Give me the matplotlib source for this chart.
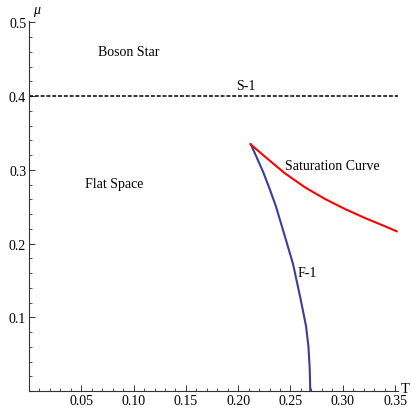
import matplotlib
matplotlib.use('Agg')
import matplotlib.pyplot as plt
from matplotlib.ticker import MultipleLocator, FixedLocator

plt.rcParams['font.family'] = ['Liberation Serif', 'DejaVu Serif']

# F-1 curve (blue)
f1_T = [0.2120, 0.2180, 0.2240, 0.2300, 0.2359, 0.2454, 0.2525, 0.2597, 0.2648, 0.2672, 0.2684, 0.2689]
f1_mu = [0.3350, 0.3160, 0.2967, 0.2745, 0.2514, 0.2062, 0.1720, 0.1245, 0.0886, 0.0600, 0.0300, 0.0]

# saturation curve (red)
sat_T = [0.2120, 0.2256, 0.2447, 0.2639, 0.2830, 0.3021, 0.3212, 0.3403, 0.3515]
sat_mu = [0.3345, 0.3179, 0.2953, 0.2763, 0.2605, 0.2469, 0.2347, 0.2235, 0.2167]

s1_mu = 0.4

xticks = [0.05, 0.10, 0.15, 0.20, 0.25, 0.30, 0.35]
xlabels = ['0.05', '0.10', '0.15', '0.20', '0.25', '0.30', '0.35']
yticks = [0.1, 0.2, 0.3, 0.4, 0.5]
ylabels = ['0.1', '0.2', '0.3', '0.4', '0.5']

fig = plt.figure(figsize=(4.12, 4.10), dpi=100)
ax = fig.add_axes([29/412, 18/410, 369/412, 370/410])

ax.axhline(s1_mu, color='black', lw=1.1, dashes=(2.6, 1.2))
ax.plot(f1_T, f1_mu, color='#3d3d99', lw=1.5)
ax.plot(sat_T, sat_mu, color='red', lw=1.5)

ax.set_xlim(0, 0.3528)
ax.set_ylim(0, 0.502)

for s in ['top', 'right']:
    ax.spines[s].set_visible(False)
for s in ['left', 'bottom']:
    ax.spines[s].set_linewidth(0.8)
    ax.spines[s].set_color('#333333')

ax.xaxis.set_major_locator(FixedLocator(xticks))
ax.set_xticklabels(xlabels)
ax.yaxis.set_major_locator(FixedLocator(yticks))
ax.set_yticklabels(ylabels)
ax.xaxis.set_minor_locator(MultipleLocator(0.01))
ax.yaxis.set_minor_locator(MultipleLocator(0.02))
ax.tick_params(which='major', direction='in', length=4, width=0.7, labelsize=10, pad=2, color='#333333')
ax.tick_params(which='minor', direction='in', length=2, width=0.6, color='#333333')

ax.text(0.0951, 0.46, 'Boson Star', fontsize=10, ha='center', va='center')
ax.text(0.0817, 0.281, 'Flat Space', fontsize=10, ha='center', va='center')
ax.text(0.2075, 0.415, 'S-1', fontsize=10, ha='center', va='center')
ax.text(0.2903, 0.3055, 'Saturation Curve', fontsize=10, ha='center', va='center')
ax.text(0.2664, 0.161, 'F-1', fontsize=10, ha='center', va='center')

ax.text(0.0076, 0.5176, 'μ', fontsize=10, style='italic', ha='center', va='center', clip_on=False)
ax.text(0.3600, 0.004, 'T', fontsize=10.5, ha='center', va='center', clip_on=False)

fig.savefig('out.png', dpi=100)
